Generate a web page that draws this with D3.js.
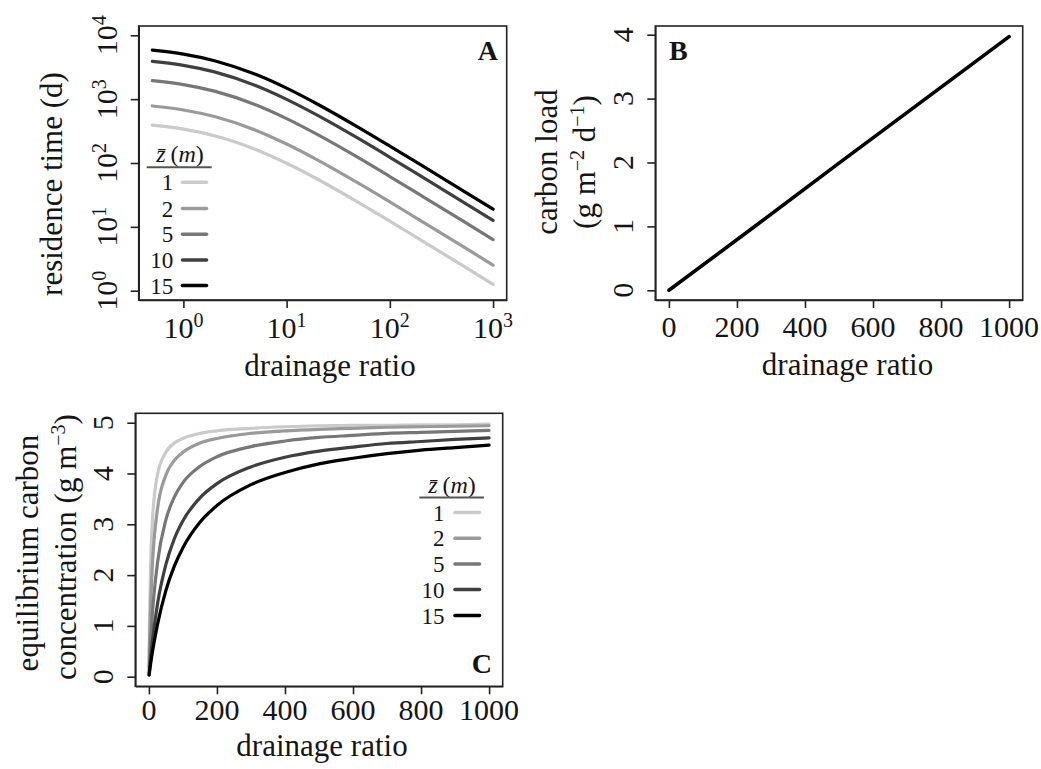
<!DOCTYPE html>
<html><head><meta charset="utf-8">
<script src="https://cdnjs.cloudflare.com/ajax/libs/d3/7.8.5/d3.min.js"></script>
<style>
body{margin:0;background:#fff}
text{font-family:"Liberation Serif","Times New Roman",serif;fill:#151515}
</style>
</head><body>
<svg id="chart" width="1041" height="769"></svg>
<script>
// ---------------- data ----------------
const depths = [1, 2, 5, 10, 15];
const depthLabels = ["1", "2", "5", "10", "15"];

const drainageA = [0.5, 1, 2, 5, 10, 20, 50, 100, 200, 500, 1000];
const residence_z1  = [391, 339, 267, 163, 99, 55.6, 23.9, 12.3, 6.2, 2.51, 1.26];
const residence_z2  = [782, 677, 534, 327, 198, 111, 47.9, 24.6, 12.4, 5.02, 2.52];
const residence_z5  = [1955, 1693, 1335, 817, 496, 278, 120, 61.4, 31.1, 12.6, 6.3];
const residence_z10 = [3910, 3386, 2670, 1634, 992, 556, 240, 123, 62.2, 25.1, 12.6];
const residence_z15 = [5865, 5079, 4005, 2451, 1488, 833, 359, 184, 93.3, 37.7, 18.9];

const drainageB = [0, 250, 500, 750, 1000];
const carbonLoad = [0, 0.99, 1.99, 2.98, 3.97];

const drainageC = [0.5, 2, 5, 10, 25, 50, 75, 100, 150, 200, 300, 400, 500, 600, 700, 800, 900, 1000];
const conc_z1  = [0.36, 1.18, 2.17, 3.03, 3.97, 4.42, 4.60, 4.69, 4.79, 4.84, 4.89, 4.92, 4.94, 4.95, 4.95, 4.96, 4.96, 4.97];
const conc_z2  = [0.19, 0.67, 1.39, 2.17, 3.29, 3.97, 4.26, 4.42, 4.60, 4.69, 4.79, 4.84, 4.87, 4.89, 4.91, 4.92, 4.93, 4.94];
const conc_z5  = [0.08, 0.30, 0.69, 1.22, 2.23, 3.09, 3.54, 3.82, 4.14, 4.33, 4.53, 4.64, 4.71, 4.75, 4.79, 4.81, 4.83, 4.85];
const conc_z10 = [0.04, 0.15, 0.37, 0.68, 1.42, 2.21, 2.72, 3.07, 3.52, 3.80, 4.13, 4.32, 4.44, 4.52, 4.59, 4.63, 4.67, 4.70];
const conc_z15 = [0.03, 0.10, 0.25, 0.47, 1.02, 1.70, 2.18, 2.54, 3.04, 3.37, 3.78, 4.02, 4.19, 4.30, 4.39, 4.46, 4.51, 4.56];

const ticksAx = [1, 10, 100, 1000];
const ticksAxExp = ["0", "1", "2", "3"];
const ticksAy = [1, 10, 100, 1000, 10000];
const ticksAyExp = ["0", "1", "2", "3", "4"];
const ticksLin = [0, 200, 400, 600, 800, 1000];
const ticksBy = [0, 1, 2, 3, 4];
const ticksCy = [0, 1, 2, 3, 4, 5];

// ---------------- styles ----------------
const greys = ["#cacaca", "#9a9a9a", "#777777", "#3f3f3f", "#000000"];
const residence = [residence_z1, residence_z2, residence_z5, residence_z10, residence_z15];
const conc = [conc_z1, conc_z2, conc_z5, conc_z10, conc_z15];

const svg = d3.select("#chart");
svg.append("rect").attr("width", 1041).attr("height", 769).attr("fill", "#fff");

const TICK_FS = 30, TITLE_FS = 31, AXC = "#222", TICK_LEN = 8;

function box(b) {
  svg.append("rect").attr("x", b.x0).attr("y", b.y0)
    .attr("width", b.x1 - b.x0).attr("height", b.y1 - b.y0)
    .attr("fill", "none").attr("stroke", AXC).attr("stroke-width", 1.6);
}
function styleAxis(g) {
  g.selectAll("path").attr("stroke", AXC).attr("stroke-width", 1.6);
  g.selectAll("line").attr("stroke", AXC).attr("stroke-width", 1.6);
  g.selectAll("text").remove();
}
function xTickLabels(baseY, x, vals, fmt, sup) {
  vals.forEach((v, i) => {
    const t = svg.append("text").attr("x", x(v)).attr("y", baseY)
      .attr("text-anchor", "middle").attr("font-size", TICK_FS);
    if (sup) {
      t.append("tspan").text("10");
      t.append("tspan").attr("dy", -11).attr("font-size", 20).text(sup[i]);
    } else t.text(fmt(v));
  });
}
function yTickLabels(b, y, vals, fmt, sup) {
  vals.forEach((v, i) => {
    const t = svg.append("text")
      .attr("transform", `translate(${b.x0 - 22},${y(v)}) rotate(-90)`)
      .attr("text-anchor", "middle").attr("font-size", TICK_FS);
    if (sup) {
      t.append("tspan").text("10");
      t.append("tspan").attr("dy", -11).attr("font-size", 20).text(sup[i]);
    } else t.text(fmt(v));
  });
}
function legend(lx) {
  const t = svg.append("text").attr("x", lx.tx).attr("y", lx.ty)
    .attr("text-anchor", "middle").attr("font-size", 24);
  t.append("tspan").attr("font-style", "italic").text("z\u0304");
  t.append("tspan").text("\u2009(");
  t.append("tspan").attr("font-style", "italic").text("m");
  t.append("tspan").text(")");
  svg.append("line").attr("x1", lx.ux0).attr("x2", lx.ux1).attr("y1", lx.uy).attr("y2", lx.uy)
    .attr("stroke", "#555").attr("stroke-width", 2);
  depths.forEach((d, i) => {
    const ry = lx.rows[i];
    svg.append("text").attr("x", lx.nx).attr("y", ry + 8)
      .attr("text-anchor", "end").attr("font-size", 23).text(depthLabels[i]);
    svg.append("line").attr("x1", lx.l0).attr("x2", lx.l1).attr("y1", ry).attr("y2", ry)
      .attr("stroke", greys[i]).attr("stroke-width", 3.6).attr("stroke-linecap", "round");
  });
}

// ---------------- Panel A ----------------
const bA = {x0: 138.7, x1: 506.7, y0: 26, y1: 300};
const xA = d3.scaleLog().domain([Math.pow(10, -0.433), Math.pow(10, 3.132)]).range([bA.x0, bA.x1]);
const yA = d3.scaleLog().domain([Math.pow(10, -(bA.y1 - 290.7) / 63.85), Math.pow(10, (290.7 - bA.y0) / 63.85)]).range([bA.y1, bA.y0]);
const lineA = d3.line().curve(d3.curveMonotoneX);
residence.forEach((ser, i) => {
  svg.append("path")
    .attr("d", lineA(drainageA.map((dr, k) => [xA(dr), yA(ser[k])])))
    .attr("fill", "none").attr("stroke", greys[i]).attr("stroke-width", 3.2)
    .attr("stroke-linecap", "round").attr("stroke-linejoin", "round");
});
svg.append("g").attr("transform", `translate(0,${bA.y1})`)
  .call(d3.axisBottom(xA).tickValues(ticksAx).tickSize(TICK_LEN).tickSizeOuter(0)).call(styleAxis);
svg.append("g").attr("transform", `translate(${bA.x0},0)`)
  .call(d3.axisLeft(yA).tickValues(ticksAy).tickSize(TICK_LEN).tickSizeOuter(0)).call(styleAxis);
box(bA);
xTickLabels(337.7, xA, ticksAx, null, ticksAxExp);
yTickLabels(bA, yA, ticksAy, null, ticksAyExp);
svg.append("text").attr("x", 330).attr("y", 376).attr("text-anchor", "middle")
  .attr("font-size", TITLE_FS).text("drainage ratio");
svg.append("text").attr("transform", "translate(62,184) rotate(-90)")
  .attr("text-anchor", "middle").attr("font-size", TITLE_FS).text("residence time (d)");
svg.append("text").attr("x", 498).attr("y", 60).attr("text-anchor", "end")
  .attr("font-size", 28).attr("font-weight", "bold").text("A");
legend({tx: 180, ty: 161.7, ux0: 146.7, ux1: 211.7, uy: 167.2, nx: 173.3, l0: 182.5, l1: 206.5,
        rows: [182.3, 208.5, 234.3, 260, 285.5]});

// ---------------- Panel B ----------------
const bB = {x0: 655.3, x1: 1022.7, y0: 26, y1: 300};
const xB = d3.scaleLinear().domain([-40, 1040]).range([bB.x0, bB.x1]);
const yB = d3.scaleLinear().domain([-(bB.y1 - 290.3) / 63.9, (290.3 - bB.y0) / 63.9]).range([bB.y1, bB.y0]);
svg.append("path")
  .attr("d", d3.line()(drainageB.map((dr, k) => [xB(dr), yB(carbonLoad[k])])))
  .attr("fill", "none").attr("stroke", "#000").attr("stroke-width", 3.6).attr("stroke-linecap", "round");
svg.append("g").attr("transform", `translate(0,${bB.y1})`)
  .call(d3.axisBottom(xB).tickValues(ticksLin).tickSize(TICK_LEN).tickSizeOuter(0)).call(styleAxis);
svg.append("g").attr("transform", `translate(${bB.x0},0)`)
  .call(d3.axisLeft(yB).tickValues(ticksBy).tickSize(TICK_LEN).tickSizeOuter(0)).call(styleAxis);
box(bB);
xTickLabels(337.3, xB, ticksLin, d3.format("d"));
yTickLabels(bB, yB, ticksBy, d3.format("d"));
svg.append("text").attr("x", 847.5).attr("y", 374.5).attr("text-anchor", "middle")
  .attr("font-size", TITLE_FS).text("drainage ratio");
svg.append("text").attr("transform", "translate(556.7,162) rotate(-90)")
  .attr("text-anchor", "middle").attr("font-size", TITLE_FS).text("carbon load");
{
  const t = svg.append("text").attr("transform", "translate(595,162) rotate(-90)")
    .attr("text-anchor", "middle").attr("font-size", TITLE_FS);
  t.append("tspan").text("(g m");
  t.append("tspan").attr("dy", -11).attr("font-size", 20).text("\u22122");
  t.append("tspan").attr("dy", 11).text(" d");
  t.append("tspan").attr("dy", -11).attr("font-size", 20).text("\u22121");
  t.append("tspan").attr("dy", 11).text(")");
}
svg.append("text").attr("x", 669).attr("y", 60)
  .attr("font-size", 28).attr("font-weight", "bold").text("B");

// ---------------- Panel C ----------------
const bC = {x0: 135.3, x1: 502.7, y0: 413.3, y1: 686.3};
const xC = d3.scaleLinear().domain([-40, 1040]).range([bC.x0, bC.x1]);
const yC = d3.scaleLinear().domain([-(bC.y1 - 676.7) / 50.8, (676.7 - bC.y0) / 50.8]).range([bC.y1, bC.y0]);
const lineC = d3.line().curve(d3.curveMonotoneX);
conc.forEach((ser, i) => {
  svg.append("path")
    .attr("d", lineC(drainageC.map((dr, k) => [xC(dr), yC(ser[k])])))
    .attr("fill", "none").attr("stroke", greys[i]).attr("stroke-width", 3.2)
    .attr("stroke-linecap", "round").attr("stroke-linejoin", "round");
});
svg.append("g").attr("transform", `translate(0,${bC.y1})`)
  .call(d3.axisBottom(xC).tickValues(ticksLin).tickSize(TICK_LEN).tickSizeOuter(0)).call(styleAxis);
svg.append("g").attr("transform", `translate(${bC.x0},0)`)
  .call(d3.axisLeft(yC).tickValues(ticksCy).tickSize(TICK_LEN).tickSizeOuter(0)).call(styleAxis);
box(bC);
xTickLabels(719.5, xC, ticksLin, d3.format("d"));
yTickLabels(bC, yC, ticksCy, d3.format("d"));
svg.append("text").attr("x", 322).attr("y", 756).attr("text-anchor", "middle")
  .attr("font-size", TITLE_FS).text("drainage ratio");
svg.append("text").attr("transform", "translate(37.5,553) rotate(-90)")
  .attr("text-anchor", "middle").attr("font-size", TITLE_FS).text("equilibrium carbon");
{
  const t = svg.append("text").attr("transform", "translate(76,547) rotate(-90)")
    .attr("text-anchor", "middle").attr("font-size", TITLE_FS);
  t.append("tspan").text("concentration (g m");
  t.append("tspan").attr("dy", -11).attr("font-size", 20).text("\u22123");
  t.append("tspan").attr("dy", 11).text(")");
}
svg.append("text").attr("x", 492).attr("y", 673).attr("text-anchor", "end")
  .attr("font-size", 28).attr("font-weight", "bold").text("C");
legend({tx: 452, ty: 493, ux0: 419.3, ux1: 484, uy: 497.5, nx: 444.5, l0: 455, l1: 479.5,
        rows: [512.5, 538.3, 564, 589.5, 615.5]});
</script>
</body></html>
